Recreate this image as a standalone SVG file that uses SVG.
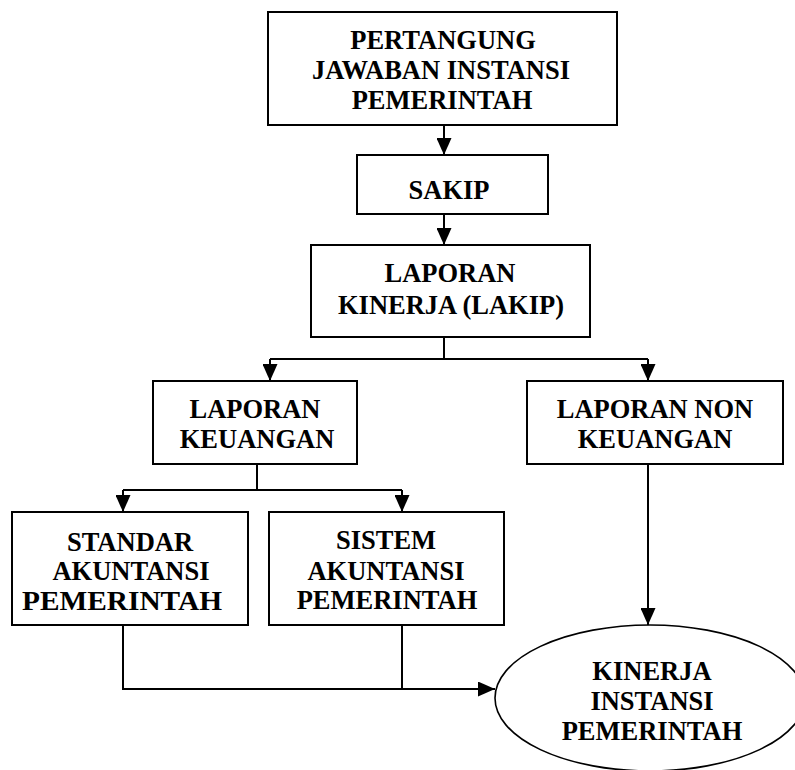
<svg xmlns="http://www.w3.org/2000/svg" width="795" height="770" viewBox="0 0 795 770">
<style>
.box{fill:#fff;stroke:#000;stroke-width:2}
.ell{fill:#fff;stroke:#000;stroke-width:1.6}
text{font-family:'Liberation Serif','Times New Roman',Times,serif;font-weight:700;font-size:26.5px;fill:#000;text-anchor:middle}
.c{fill:none;stroke:#000;stroke-width:2}
</style>
<defs>
<marker id="ah" viewBox="0 0 17 15" refX="17" refY="7.5" markerWidth="17" markerHeight="15" markerUnits="userSpaceOnUse" orient="auto">
<path d="M0,0 L17,7.5 L0,15 z" fill="#000"/>
</marker>
</defs>
<rect width="795" height="770" fill="#fff"/>
<g id="connectors">
<path class="c" d="M444,125 V155" marker-end="url(#ah)"/>
<path class="c" d="M444,214 V245" marker-end="url(#ah)"/>
<path class="c" d="M444,337 V359"/>
<path class="c" d="M270,359 H648"/>
<path class="c" d="M270,359 V381" marker-end="url(#ah)"/>
<path class="c" d="M648,359 V381" marker-end="url(#ah)"/>
<path class="c" d="M257,464 V490"/>
<path class="c" d="M123,490 H402"/>
<path class="c" d="M123,490 V512" marker-end="url(#ah)"/>
<path class="c" d="M402,490 V512" marker-end="url(#ah)"/>
<path class="c" d="M648,464 V625" marker-end="url(#ah)"/>
<path class="c" d="M123,625 V689 H495" marker-end="url(#ah)"/>
<path class="c" d="M402,625 V689"/>
</g>
<g id="node-pertangung">
<rect class="box" x="268" y="12" width="349" height="113"/>
<text x="443" y="49">PERTANGUNG</text>
<text x="441" y="79">JAWABAN INSTANSI</text>
<text x="442" y="109">PEMERINTAH</text>
</g>
<g id="node-sakip">
<rect class="box" x="357" y="155" width="191" height="59"/>
<text x="449" y="199">SAKIP</text>
</g>
<g id="node-lakip">
<rect class="box" x="311" y="245" width="279" height="92"/>
<text x="450" y="282">LAPORAN</text>
<text x="451" y="314">KINERJA (LAKIP)</text>
</g>
<g id="node-keuangan">
<rect class="box" x="153" y="381" width="204" height="83"/>
<text x="255" y="418">LAPORAN</text>
<text x="257" y="448">KEUANGAN</text>
</g>
<g id="node-nonkeuangan">
<rect class="box" x="527" y="381" width="256" height="83"/>
<text x="655" y="418">LAPORAN NON</text>
<text x="655" y="448">KEUANGAN</text>
</g>
<g id="node-standar">
<rect class="box" x="12" y="512" width="236" height="113"/>
<text x="130" y="551">STANDAR</text>
<text x="131" y="580">AKUNTANSI</text>
<text x="122" y="610" textLength="200" lengthAdjust="spacingAndGlyphs">PEMERINTAH</text>
</g>
<g id="node-sistem">
<rect class="box" x="269" y="512" width="235" height="113"/>
<text x="386" y="549">SISTEM</text>
<text x="386" y="580">AKUNTANSI</text>
<text x="387" y="609">PEMERINTAH</text>
</g>
<g id="node-kinerja">
<ellipse class="ell" cx="650" cy="698" rx="155" ry="73"/>
<text x="652" y="680">KINERJA</text>
<text x="652" y="710">INSTANSI</text>
<text x="652" y="740">PEMERINTAH</text>
</g>
</svg>
